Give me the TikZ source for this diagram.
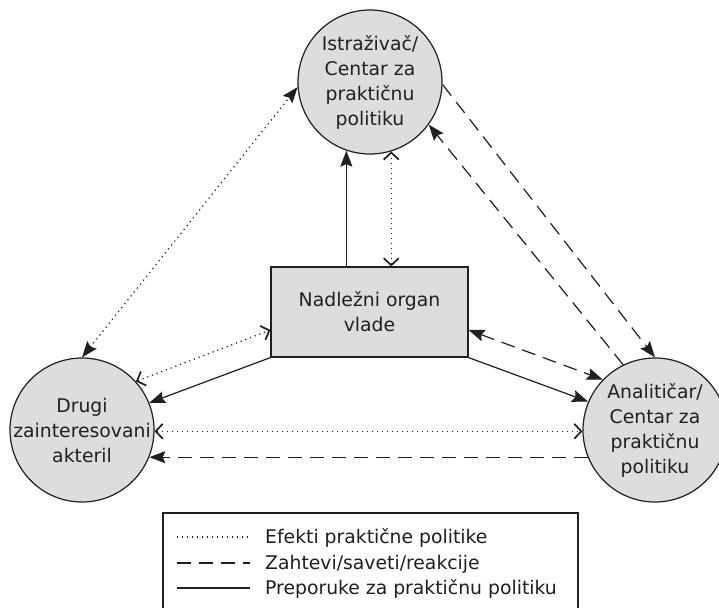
\documentclass[tikz,border=0pt]{standalone}
\usepackage{fontspec}
\setmainfont{DejaVu Sans}
\usetikzlibrary{arrows.meta}
\definecolor{fillgrey}{RGB}{220,221,222}
\definecolor{ink}{RGB}{35,31,32}
\tikzset{
  FillTip/.tip={Stealth[length=16pt,width=12pt,inset=2.5pt]},
  OpenTip/.tip={Straight Barb[length=7pt,width=15pt,line width=1.7pt]},
}
\begin{document}
\begin{tikzpicture}[x=1pt,y=-1pt,
  every node/.style={font=\fontsize{18.8}{25}\selectfont, text=ink},
  actor/.style={circle, draw=ink, fill=fillgrey, line width=1.2pt, minimum size=144pt, inner sep=0pt},
  agency/.style={rectangle, draw=ink, fill=fillgrey, line width=1.2pt, minimum width=197pt, minimum height=90pt, inner sep=0pt, align=center},
  lbl/.style={align=center, inner sep=0pt},
  conn/.style={draw=ink, line width=1.2pt},
  effect/.style={conn, dash pattern=on 1.2pt off 3.8pt},
  request/.style={conn, dash pattern=on 14pt off 8pt},
  recommend/.style={conn},
  legtext/.style={anchor=base west, inner sep=0pt},
]
\clip (0,0) rectangle (719,607);
\fill[white] (0,0) rectangle (719,607);

% nodes
\node[actor] (T) at (370,82) {};
\node[lbl] (Tt) at (T.center) {Istraživač/\\Centar za\\praktičnu\\politiku};
\node[actor] (L) at (82,430) {};
\node[lbl] (Lt) at (L.center) {Drugi\\zainteresovani\\akteril};
\node[actor] (Rc) at (655,430) {};
\node[lbl] (Rt) at (Rc.center) {Analitičar/\\Centar za\\praktičnu\\politiku};
\node[agency] (G) at (369.5,312) {Nadležni organ\\vlade};

% connectors
\draw[recommend, -FillTip] (G.north -| T.-109.4) -- (T.-109.4);
\draw[effect, OpenTip-OpenTip] (G.north -| T.-73) -- (T.-73);
\draw[recommend, -FillTip] (G.south west) -- (L.22.4);
\draw[recommend, -FillTip] (G.south east) -- (Rc.157.3);
\draw[effect, OpenTip-OpenTip] (L.42.3) -- ([yshift=-18pt]G.west);
\draw[request, FillTip-FillTip] ([yshift=-18pt]G.east) -- (Rc.136.7);
\draw[effect, OpenTip-OpenTip] (L.-1.6) -- (Rc.181.6);
\draw[request, -FillTip] (Rc.202) -- (L.-22);
\draw[effect, FillTip-FillTip] (L.90) -- (T.-176.1);
\draw[request, -FillTip] (T.-2.4) -- (Rc.90);
\draw[request, -FillTip] (Rc.116.2) -- (T.-36.6);

% legend
\draw[ink, line width=1.2pt] (163,513) rectangle (578,640);
\node[legtext] (k1) at (265,543) {Efekti praktične politike};
\node[legtext] (k2) at (265,569) {Zahtevi/saveti/reakcije};
\node[legtext] (k3) at (265,594) {Preporuke za praktičnu politiku};
\coordinate (s1a) at (177,537); \coordinate (s1b) at (250,537);
\coordinate (s2a) at (177,563); \coordinate (s2b) at (250,563);
\coordinate (s3a) at (177,588); \coordinate (s3b) at (250,588);
\draw[effect] (s1a) -- (s1b);
\draw[request] (s2a) -- (s2b);
\draw[recommend] (s3a) -- (s3b);
\end{tikzpicture}
\end{document}
